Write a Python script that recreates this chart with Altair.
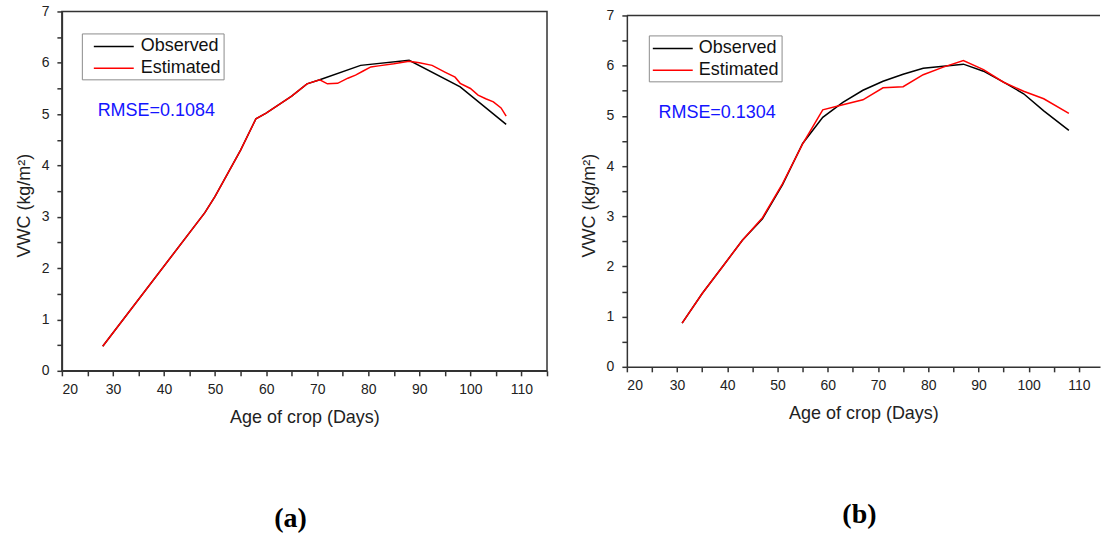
import altair as alt
import pandas as pd

FONT = "Liberation Sans"
SERIF = "Liberation Serif"

# ---------------- Panel (a) ----------------
a_obs_day = [28, 48, 50, 55, 58, 60, 65, 68, 70.5, 78.5, 88, 98, 107]
a_obs_vwc = [0.48, 3.08, 3.40, 4.30, 4.91, 5.02, 5.35, 5.59, 5.67, 5.95, 6.05, 5.53, 4.80]
a_est_day = [28, 48, 50, 55, 58, 60, 65, 68, 70.5, 72, 74, 76, 77.5, 79, 80.5, 82, 85, 88,
             90, 92.5, 95, 97, 98, 100, 101.5, 103, 104.5, 106, 107]
a_est_vwc = [0.48, 3.08, 3.40, 4.30, 4.91, 5.02, 5.35, 5.59, 5.67, 5.59, 5.60, 5.70, 5.76, 5.84,
             5.92, 5.94, 5.98, 6.03, 6.00, 5.95, 5.82, 5.72, 5.60, 5.50, 5.37, 5.30, 5.24, 5.12, 4.96]
a_rmse = "RMSE=0.1084"
a_rmse_pos = [27.0, 5.07]

# ---------------- Panel (b) ----------------
b_day = [31, 35, 39, 43, 47, 51, 55, 59, 63, 67, 71, 75, 79, 83, 87, 91, 95, 99, 103, 108]
b_obs_vwc = [0.87, 1.46, 1.99, 2.52, 2.95, 3.63, 4.45, 4.97, 5.27, 5.51, 5.69, 5.83, 5.95,
             5.99, 6.03, 5.89, 5.67, 5.44, 5.10, 4.71]
b_est_vwc = [0.87, 1.46, 1.99, 2.52, 2.97, 3.65, 4.44, 5.12, 5.22, 5.32, 5.56, 5.58, 5.82,
             5.97, 6.10, 5.92, 5.67, 5.49, 5.34, 5.05]
b_rmse = "RMSE=0.1304"
b_rmse_pos = [26.3, 5.06]

series_names = ["Observed", "Estimated"]
series_colors = ["#000000", "#ff0000"]

AX = "#333333"


def panel(obs_day, obs_vwc, est_day, est_vwc, rmse_text, rmse_pos, width, height, xmax,
          ytitle_y, legend_xy, legend_pad, legend_symoff, legend_lbloff, label, label_dx, boxed):
    df = pd.DataFrame({
        "day": list(obs_day) + list(est_day),
        "vwc": list(obs_vwc) + list(est_vwc),
        "series": [series_names[0]] * len(obs_day) + [series_names[1]] * len(est_day),
    })
    xticks = [v for v in range(20, 116, 5) if v <= xmax + 1e-9]
    yticks = [i * 0.5 for i in range(15)]
    xscale = alt.Scale(domain=[20, xmax], nice=False, zero=False)
    yscale = alt.Scale(domain=[0, 7], nice=False, zero=False)
    xaxis = alt.Axis(
        values=xticks,
        labelExpr="datum.value % 10 === 0 ? format(datum.value, 'd') : ''",
        tickSize=5,
        title="Age of crop (Days)",
        labelPadding=7, titlePadding=12,
    )
    yaxis = alt.Axis(
        values=yticks,
        labelExpr="datum.value % 1 === 0 ? format(datum.value, 'd') : ''",
        tickSize=5,
        title="VWC (kg/m²)",
        titleY=ytitle_y, titlePadding=8,
        labelPadding=8,
    )
    X = alt.X("day:Q", scale=xscale, axis=xaxis)
    Y = alt.Y("vwc:Q", scale=yscale, axis=yaxis)
    color = alt.Color(
        "series:N",
        scale=alt.Scale(domain=series_names, range=series_colors),
        legend=alt.Legend(
            title=None, orient="none", legendX=legend_xy[0], legendY=legend_xy[1],
            symbolType="M-2,0H2", symbolSize=400, symbolStrokeWidth=1.5,
            symbolFillColor="transparent",
            labelFont=FONT, labelFontSize=18, labelColor="#111111", labelOffset=legend_lbloff,
            strokeColor="#8c8c8c", fillColor="white", padding=legend_pad,
            rowPadding=2, symbolOffset=legend_symoff,
        ),
    )
    base = alt.Chart(df)
    obs = base.transform_filter(f"datum.series === '{series_names[0]}'").mark_line(
        strokeWidth=1.5).encode(x=X, y=Y, color=color)
    est = base.transform_filter(f"datum.series === '{series_names[1]}'").mark_line(
        strokeWidth=1.5).encode(x=X, y=Y, color=color)
    txt = alt.Chart(pd.DataFrame({"day": [rmse_pos[0]], "vwc": [rmse_pos[1]], "t": [rmse_text]})).mark_text(
        align="left", baseline="middle", font=FONT, fontSize=18, color="#1414ff"
    ).encode(x=X, y=Y, text="t:N")
    layers = [obs, est, txt]
    if not boxed:
        top = alt.Chart(pd.DataFrame({"day": [20], "day2": [xmax]})).mark_rule(
            color=AX, strokeWidth=1.5
        ).encode(x=X, x2="day2:Q", y=alt.value(0))
        layers.append(top)
    ch = alt.layer(*layers).properties(
        width=width, height=height,
        title=alt.TitleParams(
            text=label, orient="bottom", anchor="middle", dx=label_dx, offset=78,
            font=SERIF, fontSize=28, fontWeight="bold", color="#000000",
        ),
    )
    if boxed:
        ch = ch.properties(view=alt.ViewBackground(stroke=AX, strokeWidth=1.5))
    return ch


pa = panel(a_obs_day, a_obs_vwc, a_est_day, a_est_vwc, a_rmse, a_rmse_pos,
           width=486, height=360, xmax=115, ytitle_y=194, legend_xy=[20, 22],
           legend_pad=2, legend_symoff=19, legend_lbloff=16, label="(a)", label_dx=-14, boxed=True)
pb = panel(b_day, b_obs_vwc, b_day, b_est_vwc, b_rmse, b_rmse_pos,
           width=474, height=352, xmax=114.2, ytitle_y=190, legend_xy=[22, 20],
           legend_pad=2, legend_symoff=11, legend_lbloff=15, label="(b)", label_dx=-4, boxed=False)

chart = alt.hconcat(pa, pb, spacing=80, bounds="flush", center=True).resolve_scale(
    x="independent", y="independent", color="independent"
).properties(
    padding={"left": 14, "top": 3, "right": 0, "bottom": 0},
    background="white",
).configure_view(stroke=None).configure_axis(
    domainColor=AX, domainWidth=1.5, tickColor=AX, tickWidth=1.5, grid=False,
    labelFont=FONT, labelFontSize=14, labelColor="#222222",
    titleFont=FONT, titleFontSize=18, titleFontWeight="normal", titleColor="#222222",
)

chart.save("out.html", embed_options={"renderer": "svg", "actions": False})
